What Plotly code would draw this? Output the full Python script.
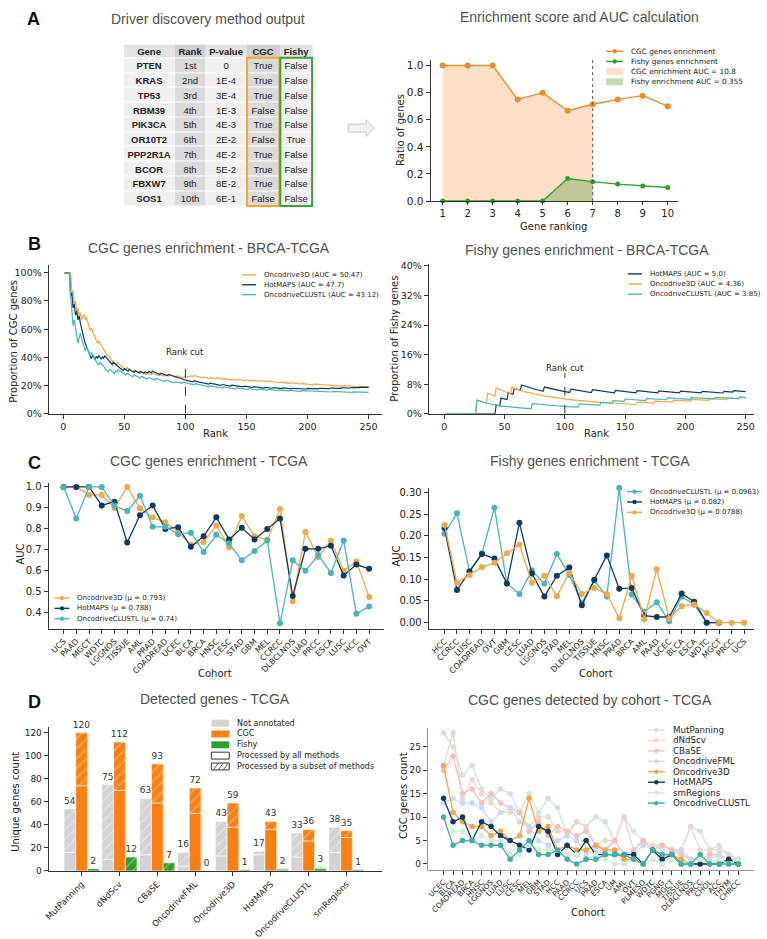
import numpy as np
import plotly.graph_objects as go

W, H = 767, 939
FONT = "DejaVu Sans"
TFONT = "Liberation Sans"

# ---------------- data ----------------
# A - driver discovery output
genes = ["PTEN", "KRAS", "TP53", "RBM39", "PIK3CA", "OR10T2", "PPP2R1A", "BCOR", "FBXW7", "SOS1"]
rank_txt = ["1st", "2nd", "3rd", "4th", "5th", "6th", "7th", "8th", "9th", "10th"]
pvals = ["0", "1E-4", "3E-4", "1E-3", "4E-3", "2E-2", "4E-2", "5E-2", "8E-2", "6E-1"]
is_cgc = [True, True, True, False, True, False, True, True, True, False]
is_fishy = [False, False, False, False, False, True, False, False, False, False]
table_cols = ["Gene", "Rank", "P-value", "CGC", "Fishy"]
rank_cut_a = 7

# B - ranks (BRCA-TCGA) at which CGC / fishy genes appear
n_rank = 250
cgc_hits = {
    "Oncodrive3D": [1, 2, 3, 4, 5, 6, 8, 10, 12, 14, 16, 17, 19, 23, 29, 44, 52, 58, 64, 69, 73, 79, 83, 87, 93,
                    99, 102, 104, 107, 115, 121, 126, 132, 138, 144, 150, 156, 161, 167, 178, 186, 195, 205, 213,
                    222, 230, 238, 246],
    "HotMAPS": [1, 2, 3, 4, 5, 7, 9, 11, 13, 24, 27, 29, 32, 34, 41, 50, 54, 59, 63, 67, 70, 73, 80, 86, 107, 120,
                130, 138, 148, 156, 165, 172, 180, 188, 194, 200, 205, 210, 214, 219, 223, 228, 232, 236, 240,
                243, 246],
    "OncodriveCLUSTL": [1, 2, 3, 4, 5, 9, 13, 14, 19, 23, 30, 38, 43, 45, 52, 58, 64, 70, 76, 84, 92, 98, 108,
                        120, 131, 142, 152, 160, 168, 177, 186, 195, 203, 212, 221, 230, 238, 246],
}
cgc_auc = {"Oncodrive3D": 50.47, "HotMAPS": 47.7, "OncodriveCLUSTL": 43.12}
fishy_hits = {
    "HotMAPS": [43, 47, 53, 58, 64, 83, 105, 123, 142, 160, 178, 196, 214, 232, 240],
    "Oncodrive3D": [27, 36, 43, 56, 160, 175, 190, 205, 220, 235, 245],
    "OncodriveCLUSTL": [27, 73, 112, 130, 140, 150, 168, 185, 205, 225, 245],
}
fishy_auc = {"HotMAPS": 5.0, "Oncodrive3D": 4.36, "OncodriveCLUSTL": 3.85}
rank_cut_b = 100

# C - AUC by cohort
c_cohorts = ["UCS", "PAAD", "MGCT", "WDTC", "LGGNOS", "TISSUE", "AML", "PRAD", "COADREAD", "UCEC", "BLCA", "BRCA",
             "HNSC", "CESC", "STAD", "GBM", "MEL", "CCRCC", "DLBCLNOS", "LUAD", "PRCC", "ESCA", "LUSC", "HCC", "OVT"]
c_o3d = [1.0, 1.0, 0.962, 0.962, 0.90, 1.0, 0.898, 0.855, 0.832, 0.785, 0.724, 0.738, 0.816, 0.712, 0.862, 0.765,
         0.748, 0.895, 0.455, 0.787, 0.665, 0.745, 0.60, 0.645, 0.475]
c_hot = [1.0, 1.0, 1.0, 0.912, 0.93, 0.735, 0.865, 0.912, 0.80, 0.808, 0.715, 0.765, 0.855, 0.75, 0.805, 0.75,
         0.80, 0.85, 0.48, 0.705, 0.705, 0.72, 0.578, 0.63, 0.61]
c_clu = [1.0, 0.85, 1.0, 1.0, 0.91, 0.885, 0.958, 0.81, 0.81, 0.775, 0.782, 0.69, 0.772, 0.73, 0.65, 0.695,
         0.745, 0.35, 0.65, 0.60, 0.675, 0.59, 0.745, 0.395, 0.43]
c_mu = {"Oncodrive3D": 0.793, "HotMAPS": 0.788, "OncodriveCLUSTL": 0.74}

f_cohorts = ["HCC", "CCRCC", "LUSC", "COADREAD", "OVT", "GBM", "CESC", "LUAD", "LGGNOS", "STAD", "MEL", "DLBCLNOS",
             "TISSUE", "HNSC", "PRAD", "BRCA", "AML", "PAAD", "UCEC", "BLCA", "ESCA", "WDTC", "MGCT", "PRCC", "UCS"]
f_clu = [0.205, 0.252, 0.118, 0.16, 0.265, 0.09, 0.066, 0.12, 0.09, 0.158, 0.11, 0.045, 0.097, 0.06, 0.31, 0.065,
         0.025, 0.047, 0.003, 0.06, 0.042, 0.0, 0.0, None, None]
f_hot = [0.218, 0.075, 0.118, 0.158, 0.148, 0.09, 0.23, 0.113, 0.06, 0.108, 0.127, 0.04, 0.099, 0.155, 0.078, 0.08,
         0.016, 0.013, 0.013, 0.067, 0.048, 0.0, 0.0, None, None]
f_o3d = [0.225, 0.092, 0.11, 0.128, 0.138, 0.16, 0.18, 0.092, 0.108, 0.061, 0.115, 0.066, 0.08, 0.066, 0.01, 0.108,
         0.008, 0.123, 0.01, 0.038, 0.042, 0.022, 0.0, 0.0, 0.0]
f_mu = {"OncodriveCLUSTL": 0.0963, "HotMAPS": 0.082, "Oncodrive3D": 0.0788}

# D - detected genes
d_methods = ["MutPanning", "dNdScv", "CBaSE", "OncodriveFML", "Oncodrive3D", "HotMAPS", "OncodriveCLUSTL", "smRegions"]
notann_all = [16, 10, 14, 4, 13, 14, 12, 16]
notann_total = [54, 75, 63, 16, 43, 17, 33, 38]
cgc_all = [74, 70, 59, 50, 38, 36, 26, 29]
cgc_total = [120, 112, 93, 72, 59, 43, 36, 35]
fishy_all = [2, 0, 0, 0, 0, 1, 2, 0]
fishy_total = [2, 12, 7, 0, 1, 2, 3, 1]

d_cohorts = ["UCEC", "BLCA", "COADREAD", "BRCA", "HNSC", "LGGNOS", "LUAD", "LUSC", "CESC", "MEL", "GBM", "STAD",
             "HCC", "PAAD", "CCRCC", "UCS", "PRAD", "ESCA", "UM", "AML", "OVT", "PLMESO", "WDTC", "PGNG", "MGCT",
             "TISSUE", "DLBCLNOS", "PRCC", "CHOL", "ACC", "THYM", "CHRCC"]
d_counts = {
    "MutPanning": [28, 25, 19, 21, 16, 14, 16, 15, 11, 15, 11, 14, 12, 6, 9, 8, 10, 9, 5, 10, 7, 5, 4, 3, 3, 3, 8, 7, 3, 4, 2, 1],
    "dNdScv": [21, 28, 14, 18, 15, 13, 11, 11, 11, 8, 10, 10, 7, 7, 9, 8, 4, 5, 5, 10, 3, 5, 4, 4, 3, 3, 8, 3, 3, 3, 2, 1],
    "CBaSE": [20, 23, 15, 16, 13, 15, 13, 12, 11, 7, 9, 6, 8, 7, 6, 7, 4, 3, 5, 2, 3, 5, 3, 4, 3, 2, 1, 1, 2, 2, 1, 1],
    "OncodriveFML": [13, 14, 13, 13, 12, 9, 11, 12, 9, 8, 5, 4, 5, 6, 5, 2, 3, 2, 3, 0, 2, 4, 3, 0, 2, 3, 1, 1, 1, 2, 0, 0],
    "Oncodrive3D": [21, 11, 9, 8, 8, 6, 7, 5, 6, 14, 7, 8, 3, 4, 3, 3, 4, 3, 3, 1, 1, 0, 3, 2, 2, 1, 0, 0, 0, 1, 0, 0],
    "HotMAPS": [14, 9, 10, 5, 9, 8, 6, 5, 4, 3, 8, 7, 2, 4, 2, 5, 2, 2, 2, 2, 2, 0, 3, 1, 2, 0, 0, 0, 0, 0, 1, 0],
    "smRegions": [10, 7, 7, 5, 6, 5, 5, 2, 2, 4, 3, 3, 3, 2, 2, 1, 2, 1, 0, 0, 1, 0, 1, 0, 1, 0, 0, 1, 0, 1, 0, 1],
    "OncodriveCLUSTL": [10, 4, 5, 5, 4, 4, 4, 1, 3, 5, 2, 2, 3, 1, 0, 1, 1, 2, 2, 2, 1, 0, 3, 2, 2, 0, 0, 2, 0, 0, 0, 0],
}

# ---------------- styles ----------------
COL = {"Oncodrive3D": "#f2a748", "HotMAPS": "#0e3a61", "OncodriveCLUSTL": "#4ab5b6"}
D_COL = {"MutPanning": "#d3e2de", "dNdScv": "#ead8cf", "CBaSE": "#f2c0c0", "OncodriveFML": "#c9dbf2",
         "Oncodrive3D": "#f2a748", "HotMAPS": "#0e3a61", "smRegions": "#d2efd6", "OncodriveCLUSTL": "#3fb0a6"}
ORANGE, GREEN, GREY = "#ff7f0e", "#2ca02c", "#d3d3d3"


def px(x):
    return x / W


def py(y):
    return 1 - y / H


shapes, annots = [], []


def text(t, x, y, size, color="#222", family=FONT, xanchor="center", bold=False, angle=0):
    annots.append(dict(text=f"<b>{t}</b>" if bold else t, x=px(x), y=py(y), xref="paper", yref="paper",
                       showarrow=False, xanchor=xanchor, yanchor="middle", textangle=angle,
                       font=dict(family=family, size=size, color=color)))


def legend(items, x, y, dy, size, gw=17):
    for i, (label, kind, color) in enumerate(items):
        yy = y + i * dy
        if kind in ("line", "marker"):
            shapes.append(dict(type="line", xref="paper", yref="paper", x0=px(x), x1=px(x + gw),
                               y0=py(yy), y1=py(yy), line=dict(color=color, width=1.4)))
            if kind == "marker":
                cx, r = x + gw / 2, 2.2
                shapes.append(dict(type="circle", xref="paper", yref="paper", x0=px(cx - r), x1=px(cx + r),
                                   y0=py(yy + r), y1=py(yy - r), fillcolor=color, line=dict(width=0)))
        elif kind == "patch":
            shapes.append(dict(type="rect", xref="paper", yref="paper", x0=px(x), x1=px(x + gw),
                               y0=py(yy + 3.5), y1=py(yy - 3.5), fillcolor=color, line=dict(width=0)))
        elif kind in ("box", "hatch"):
            shapes.append(dict(type="rect", xref="paper", yref="paper", x0=px(x), x1=px(x + gw),
                               y0=py(yy + 3.5), y1=py(yy - 3.5), fillcolor="white", line=dict(color="#333", width=1)))
            if kind == "hatch":
                for j in range(3):
                    shapes.append(dict(type="line", xref="paper", yref="paper",
                                       x0=px(x + 2 + j * 5), x1=px(x + 7 + j * 5),
                                       y0=py(yy + 3.5), y1=py(yy - 3.5), line=dict(color="#333", width=0.8)))
        text(label, x + gw + 6, yy, size, xanchor="left")


def axis(dom, tsize=9.5, **kw):
    d = dict(domain=dom, showline=True, linecolor="#333", linewidth=1, ticks="outside", ticklen=4,
             tickcolor="#333", tickfont=dict(family=FONT, size=tsize, color="#222"), showgrid=False,
             zeroline=False)
    d.update(kw)
    return d


fig = go.Figure()

# ---------------- A: table (heatmap cells) ----------------
col_w = [51, 31, 42, 33, 33]
row_h = [14] + [15] * len(genes)
x_edges = np.concatenate([[0], np.cumsum(col_w)])
y_edges = np.concatenate([[0], np.cumsum(row_h)])
shade = [[0, 1, 0, 1, 0]] + [[2, 3, 2, 3, 2] for _ in genes]
cells = [[f"<b>{c}</b>" for c in table_cols]] + [
    [f"<b>{g}</b>", r, p, str(c), str(f)] for g, r, p, c, f in zip(genes, rank_txt, pvals, is_cgc, is_fishy)]
fig.add_trace(go.Heatmap(
    x=x_edges, y=y_edges, z=shade, text=cells, texttemplate="%{text}", zmin=0, zmax=3, showscale=False,
    colorscale=[[0, "#e4e4e4"], [1 / 3, "#d0d0d0"], [2 / 3, "#efefef"], [1, "#dadada"]],
    ygap=1, hoverinfo="skip", textfont=dict(family=TFONT, size=9.5, color="#222"),
    xaxis="x8", yaxis="y8"))
shapes.append(dict(type="rect", xref="paper", yref="paper", x0=px(244), x1=px(276.5), y0=py(205), y1=py(54.5),
                   line=dict(color="#f5a623", width=2)))
shapes.append(dict(type="rect", xref="paper", yref="paper", x0=px(277.5), x1=px(309.5), y0=py(205), y1=py(54.5),
                   line=dict(color="#3ca03c", width=2)))
# arrow
ax0, ax1, ay = 346, 372, 126
pts = [(ax0, ay - 4), (ax1 - 8, ay - 4), (ax1 - 8, ay - 8.5), (ax1, ay), (ax1 - 8, ay + 8.5), (ax1 - 8, ay + 4),
       (ax0, ay + 4)]
shapes.append(dict(type="path", xref="paper", yref="paper",
                   path="M " + " L ".join(f"{px(a)},{py(b)}" for a, b in pts) + " Z",
                   fillcolor="#f2f2f2", line=dict(color="#c8c8c8", width=1)))

# ---------------- A: enrichment ----------------
k = np.arange(1, len(genes) + 1)
cgc_ratio = np.cumsum(is_cgc) / k
fishy_ratio = np.cumsum(is_fishy) / k
fig.add_trace(go.Scatter(x=k[:rank_cut_a], y=cgc_ratio[:rank_cut_a], fill="tozeroy", fillcolor="#fde0c6",
                         mode="lines", line=dict(width=0), xaxis="x", yaxis="y"))
fig.add_trace(go.Scatter(x=k[:rank_cut_a], y=fishy_ratio[:rank_cut_a], fill="tozeroy",
                         fillcolor="rgba(60,140,40,0.3)", mode="lines", line=dict(width=0), xaxis="x", yaxis="y"))
fig.add_trace(go.Scatter(x=k, y=cgc_ratio, mode="lines+markers", line=dict(color="#f28a2e", width=1.4),
                         marker=dict(size=6), cliponaxis=False, xaxis="x", yaxis="y"))
fig.add_trace(go.Scatter(x=k, y=fishy_ratio, mode="lines+markers", line=dict(color=GREEN, width=1.4),
                         marker=dict(size=5), cliponaxis=False, xaxis="x", yaxis="y"))
shapes.append(dict(type="line", xref="x", yref="y domain", x0=rank_cut_a, x1=rank_cut_a, y0=0, y1=1,
                   line=dict(color="#555", width=1, dash="dot")))
legend([("CGC genes enrichment", "marker", "#f28a2e"), ("Fishy genes enrichment", "marker", GREEN),
        ("CGC enrichment AUC = 10.8", "patch", "#fde0c6"), ("Fishy enrichment AUC = 0.355", "patch", "#c9d8b0")],
       606, 48, 10.3, 7.3)

# ---------------- B ----------------
ranks = np.arange(1, n_rank + 1)
for m in ["Oncodrive3D", "HotMAPS", "OncodriveCLUSTL"]:
    prop = np.cumsum(np.isin(ranks, cgc_hits[m])) / ranks
    fig.add_trace(go.Scatter(x=ranks, y=prop, mode="lines", line=dict(color=COL[m], width=1.2),
                             xaxis="x2", yaxis="y2"))
for m in ["HotMAPS", "Oncodrive3D", "OncodriveCLUSTL"]:
    prop = np.cumsum(np.isin(ranks, fishy_hits[m])) / ranks
    fig.add_trace(go.Scatter(x=ranks, y=prop, mode="lines", line=dict(color=COL[m], width=1.2),
                             xaxis="x3", yaxis="y3"))
for xr, yr, top, lab in [("x2", "y2", 0.38, 0.44), ("x3", "y3", 0.11, 0.125)]:
    shapes.append(dict(type="line", xref=xr, yref=yr, x0=rank_cut_b, x1=rank_cut_b, y0=0, y1=top,
                       line=dict(color="#333", width=1, dash="dash")))
    annots.append(dict(text="Rank cut", x=rank_cut_b, y=lab, xref=xr, yref=yr, showarrow=False,
                       font=dict(family=FONT, size=8.5, color="#222")))
legend([(f"{m} (AUC = {cgc_auc[m]})", "line", COL[m]) for m in cgc_auc], 239, 275, 10, 7, gw=14)
legend([(f"{m} (AUC = {fishy_auc[m]})", "line", COL[m]) for m in fishy_auc], 628, 274, 10.3, 7, gw=14)

# ---------------- C ----------------
for m, vals in [("Oncodrive3D", c_o3d), ("HotMAPS", c_hot), ("OncodriveCLUSTL", c_clu)]:
    fig.add_trace(go.Scatter(x=c_cohorts, y=vals, mode="lines+markers", line=dict(color=COL[m], width=1.3),
                             marker=dict(size=6), cliponaxis=False, xaxis="x4", yaxis="y4"))
for m, vals in [("OncodriveCLUSTL", f_clu), ("HotMAPS", f_hot), ("Oncodrive3D", f_o3d)]:
    fig.add_trace(go.Scatter(x=f_cohorts, y=vals, mode="lines+markers", line=dict(color=COL[m], width=1.3),
                             marker=dict(size=6), cliponaxis=False, xaxis="x5", yaxis="y5"))
legend([(f"{m} (\u03bc = {c_mu[m]})", "marker", COL[m]) for m in c_mu], 50, 603, 10.5, 7, gw=15)
legend([(f"{m} (\u03bc = {f_mu[m]})", "marker", COL[m]) for m in f_mu], 627, 495, 10.5, 7, gw=15)

# ---------------- D: bars ----------------
pat = dict(shape="/", fgcolor="rgba(255,255,255,0.75)", size=7, solidity=0.18, fillmode="overlay")
for grp, color, solid, total in [("a", GREY, notann_all, notann_total), ("b", ORANGE, cgc_all, cgc_total),
                                 ("c", GREEN, fishy_all, fishy_total)]:
    fig.add_trace(go.Bar(x=d_methods, y=solid, offsetgroup=grp,
                         marker=dict(color=color, line=dict(color="white", width=0.6)), xaxis="x6", yaxis="y6"))
    fig.add_trace(go.Bar(x=d_methods, y=[t - s for t, s in zip(total, solid)], base=solid, offsetgroup=grp,
                         marker=dict(color=color, pattern=dict(bgcolor=color, **pat),
                                     line=dict(color="white", width=0.6)),
                         text=total, textposition="outside", constraintext="none", cliponaxis=False,
                         textfont=dict(family=FONT, size=9, color="#333"), xaxis="x6", yaxis="y6"))
legend([("Not annotated", "patch", GREY), ("CGC", "patch", ORANGE), ("Fishy", "patch", GREEN),
        ("Processed by all methods", "box", "#333"), ("Processed by a subset of methods", "hatch", "#333")],
       208, 730, 11, 8, gw=18)

# ---------------- D: cohort lines ----------------
for m in d_counts:
    fig.add_trace(go.Scatter(x=d_cohorts, y=d_counts[m], mode="lines+markers",
                             line=dict(color=D_COL[m], width=1.3), marker=dict(size=5.5), cliponaxis=False,
                             xaxis="x7", yaxis="y7"))
legend([(m, "marker", D_COL[m]) for m in d_counts], 648, 737, 10.6, 8.7, gw=17)

# ---------------- titles, axis titles, panel letters ----------------
for t, x, y in [("Driver discovery method output", 205, 15), ("Enrichment score and AUC calculation", 579, 13),
                ("CGC genes enrichment - BRCA-TCGA", 206, 248), ("Fishy genes enrichment - BRCA-TCGA", 587, 250),
                ("CGC genes enrichment - TCGA", 206, 464), ("Fishy genes enrichment - TCGA", 590, 464),
                ("Detected genes - TCGA", 212, 706), ("CGC genes detected by cohort - TCGA", 590, 707)]:
    text(t, x, y, 14, color="#505050", family=TFONT)
for t, x, y in [("A", 29, 15), ("B", 30, 244), ("C", 30, 466), ("D", 30, 709)]:
    text(t, x, y, 18, color="#111", family=TFONT, bold=True)
for t, x, y, ang in [("Gene ranking", 553, 226, 0), ("Ratio of genes", 398, 128, -90),
                     ("Rank", 212, 436, 0), ("Proportion of CGC genes", 9, 342, -90),
                     ("Rank", 596, 436, 0), ("Proportion of Fishy genes", 393, 340, -90),
                     ("Cohort", 212, 680, 0), ("AUC", 16, 558, -90),
                     ("Cohort", 596, 680, 0), ("AUC", 395, 560, -90),
                     ("Unique genes count", 11, 810, -90),
                     ("Cohort", 588, 922, 0), ("CGC genes count", 401, 803, -90)]:
    text(t, x, y, 10, angle=ang)

fig.update_layout(
    width=W, height=H, margin=dict(l=0, r=0, t=0, b=0), paper_bgcolor="white", plot_bgcolor="white",
    showlegend=False, barmode="group", bargap=0.07, bargroupgap=0,
    shapes=shapes, annotations=annots,
    xaxis=axis([px(429), px(678)], tsize=10, anchor="y", range=[0.52, 10.4], tickvals=list(k), ticklen=3),
    yaxis=axis([py(200), py(57)], tsize=10.5, anchor="x", range=[0, 1.04], tickvals=[0, 0.2, 0.4, 0.6, 0.8, 1.0],
               tickformat=".1f"),
    xaxis2=axis([px(44), px(380)], anchor="y2", range=[-12, 261], dtick=50),
    yaxis2=axis([py(416), py(265)], anchor="x2", range=[0, 1.055], tickvals=[0, 0.2, 0.4, 0.6, 0.8, 1.0],
                tickformat=".0%"),
    xaxis3=axis([px(427), px(755)], anchor="y3", range=[-13, 257], dtick=50),
    yaxis3=axis([py(416), py(264)], anchor="x3", range=[0, 0.405], tickvals=[0, 0.08, 0.16, 0.24, 0.32, 0.40],
                tickformat=".0%"),
    xaxis4=axis([px(44), px(382)], tsize=8, anchor="y4", type="category", range=[-1.17, 25.17], tickangle=-45),
    yaxis4=axis([py(634), py(486)], tsize=10, anchor="x4", range=[0.325, 1.02], dtick=0.1, tickformat=".1f"),
    xaxis5=axis([px(427), px(755)], tsize=8, anchor="y5", type="category", range=[-1.27, 24.8], tickangle=-45),
    yaxis5=axis([py(634), py(491)], tsize=10, anchor="x5", range=[-0.0136, 0.311], dtick=0.05, tickformat=".2f"),
    xaxis6=axis([px(44), px(380)], tsize=8.5, anchor="y6", type="category", range=[-0.87, 7.94], tickangle=-45),
    yaxis6=axis([py(880), py(734)], tsize=9, anchor="x6", range=[0, 125], dtick=20),
    xaxis7=axis([px(426), px(755)], tsize=7.5, anchor="y7", type="category", range=[-1.67, 32.67], tickangle=-45,
                linecolor="#999"),
    yaxis7=axis([py(879), py(735)], tsize=9, anchor="x7", range=[-1.26, 29], dtick=5, linecolor="#999"),
    xaxis8=dict(domain=[px(120), px(310)], anchor="y8", range=[0, x_edges[-1]], visible=False),
    yaxis8=dict(domain=[py(205), py(41)], anchor="x8", range=[y_edges[-1], 0], visible=False),
)

# drop the default page margin so the figure starts at the window corner
fig.write_html("out.html", config={"displayModeBar": False},
               post_script="document.body.style.margin='0px';document.body.style.overflow='hidden';")
